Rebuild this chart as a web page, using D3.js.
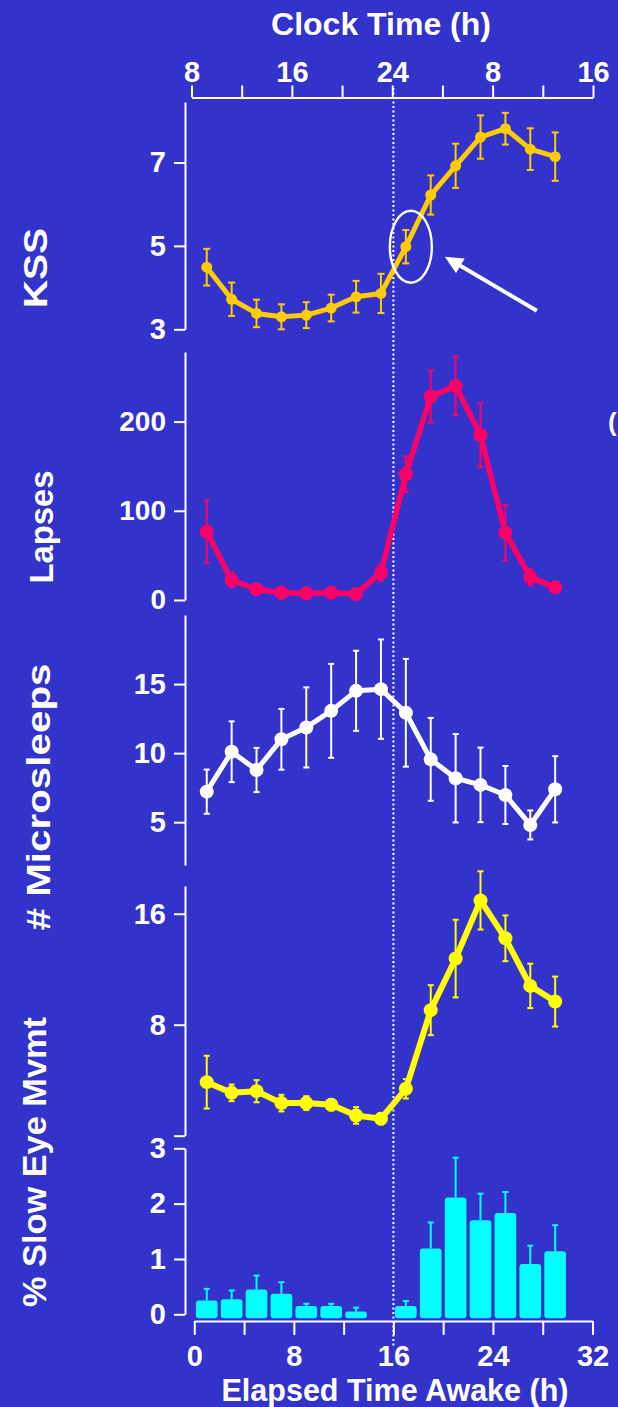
<!DOCTYPE html>
<html>
<head>
<meta charset="utf-8">
<style>
  body { margin: 0; background: #3333cc; }
  svg text { font-family: Arial, "Liberation Sans", sans-serif; font-weight: bold; fill: #fff; }
</style>
<script src="https://cdn.jsdelivr.net/npm/d3@7/dist/d3.min.js"></script>
</head>
<body>
<script>
const elapsed = [1, 3, 5, 7, 9, 11, 13, 15, 17, 19, 21, 23, 25, 27, 29];

const kss = [4.49, 3.72, 3.38, 3.30, 3.34, 3.51, 3.78, 3.86, 4.98, 6.22, 6.92, 7.61, 7.81, 7.32, 7.14];
const kssErr = [0.44, 0.40, 0.33, 0.30, 0.31, 0.32, 0.38, 0.47, 0.40, 0.47, 0.53, 0.52, 0.38, 0.50, 0.58];

const lapses = [76.6, 22.4, 12, 8.2, 7.5, 8.2, 6.7, 30.6, 141, 228, 240, 184.6, 75.5, 25.4, 14.2];
const lapsesErr = [35, 8, 2, 1.5, 1.5, 1.5, 1.5, 9, 20, 29, 33, 36, 31, 9, 2];

const counts = [7.21, 10.1, 8.78, 11.0, 11.86, 13.06, 14.51, 14.63, 12.92, 9.55, 8.18, 7.7, 6.97, 4.8, 7.38];
const countsErr = [1.6, 2.2, 1.6, 2.2, 2.9, 3.4, 2.9, 3.6, 3.9, 3.0, 3.2, 2.7, 2.1, 1.05, 2.4];

const slowEye = [3.86, 3.09, 3.21, 2.35, 2.35, 2.23, 1.46, 1.22, 3.38, 9.05, 12.77, 16.96, 14.23, 10.8, 9.67];
const slowEyeErr = [1.9, 0.6, 0.8, 0.6, 0.5, 0.4, 0.6, 0.4, 0.7, 1.8, 2.8, 2.1, 1.65, 1.6, 1.8];

const micro = [0.25, 0.27, 0.45, 0.37, 0.15, 0.15, 0.05, 0, 0.15, 1.19, 2.11, 1.70, 1.83, 0.91, 1.14];
const microErr = [0.21, 0.16, 0.25, 0.21, 0.04, 0.04, 0.07, 0, 0.09, 0.47, 0.72, 0.48, 0.38, 0.33, 0.47];

const clockTicks = [8, 12, 16, 20, 24, 28, 32, 36, 40];
const elapsedTicks = [0, 4, 8, 12, 16, 20, 24, 28, 32];

const W = 618, H = 1407;
const svg = d3.select("body").append("svg").attr("width", W).attr("height", H);

const x = d3.scaleLinear().domain([0, 32]).range([194.3, 592.5]);
const xClock = d3.scaleLinear().domain([8, 40]).range([191.5, 593]);
const axisX = 185;

function styleAxis(g, size) {
  g.select(".domain").attr("stroke", "#fff").attr("stroke-width", 2);
  g.selectAll(".tick line").attr("stroke", "#fff").attr("stroke-width", 2);
  g.selectAll(".tick text").attr("fill", "#fff").attr("font-size", size)
    .attr("font-family", "Arial, 'Liberation Sans', sans-serif").attr("font-weight", "bold");
}

// dotted line marking 24:00 / 16 h awake (drawn under the data)
svg.append("line")
  .attr("x1", x(16)).attr("x2", x(16)).attr("y1", 88).attr("y2", 1346)
  .attr("stroke", "#fff").attr("stroke-width", 2).attr("stroke-dasharray", "2,2.5");

// top clock-time axis
const topAxis = svg.append("g").attr("transform", "translate(0,97.5)")
  .call(d3.axisTop(xClock).tickValues(clockTicks).tickSize(12).tickSizeOuter(0).tickPadding(4)
    .tickFormat(d => d % 8 ? "" : (d > 24 ? d - 24 : d)));
styleAxis(topAxis, 29);
svg.append("text").attr("x", 381).attr("y", 35).attr("text-anchor", "middle")
  .attr("font-size", 32).text("Clock Time (h)");

// bottom elapsed-time axis
const bottomAxis = svg.append("g").attr("transform", "translate(0,1321)")
  .call(d3.axisBottom(x).tickValues(elapsedTicks).tickSize(14).tickSizeOuter(0).tickPadding(10)
    .tickFormat(d => d % 8 ? "" : d));
styleAxis(bottomAxis, 29);
svg.append("text").attr("x", 395).attr("y", 1401).attr("text-anchor", "middle")
  .attr("font-size", 30.5).text("Elapsed Time Awake (h)");

function linePanel(vals, errs, y, color, ticks, fmt, lw, r, cap, fontSize) {
  const g = svg.append("g");
  const ax = g.append("g").attr("transform", `translate(${axisX},0)`)
    .call(d3.axisLeft(y).tickValues(ticks).tickSize(11).tickSizeOuter(0).tickPadding(8)
      .tickFormat(fmt || d3.format("d")));
  styleAxis(ax, fontSize || 29);

  const pts = elapsed.map((e, i) => ({ e, v: vals[i], s: errs[i] }));
  const eb = g.append("g").attr("stroke", color).attr("stroke-width", 2);
  pts.forEach(p => {
    eb.append("line").attr("x1", x(p.e)).attr("x2", x(p.e))
      .attr("y1", y(p.v - p.s)).attr("y2", y(p.v + p.s));
    [p.v - p.s, p.v + p.s].forEach(v => eb.append("line")
      .attr("x1", x(p.e) - cap).attr("x2", x(p.e) + cap).attr("y1", y(v)).attr("y2", y(v)));
  });
  g.append("path").datum(pts)
    .attr("fill", "none").attr("stroke", color).attr("stroke-width", lw)
    .attr("stroke-linejoin", "round")
    .attr("d", d3.line().x(d => x(d.e)).y(d => y(d.v)));
  g.selectAll("circle").data(pts).join("circle")
    .attr("cx", d => x(d.e)).attr("cy", d => y(d.v)).attr("r", r).attr("fill", color);
  return g;
}

// panel 1
const y1 = d3.scaleLinear().domain([3, 8.45]).range([329.3, 102]);
const p1 = linePanel(kss, kssErr, y1, "#ffcc00", [3, 5, 7], null, 5, 5.5, 3.5, 29);

// circled point and arrow
const cx = x(17) + 5, cy = y1(kss[8]);
p1.append("ellipse").attr("cx", cx).attr("cy", cy).attr("rx", 21).attr("ry", 36)
  .attr("fill", "none").attr("stroke", "#fff").attr("stroke-width", 2.4);
const ax0 = cx + 126, ay0 = cy + 64, ax1 = cx + 34, ay1 = cy + 10;
const ang = Math.atan2(ay1 - ay0, ax1 - ax0);
const hl = 18, hw = 8.5;
const bx = ax1 - hl * Math.cos(ang), by = ay1 - hl * Math.sin(ang);
p1.append("line").attr("x1", ax0).attr("y1", ay0).attr("x2", bx).attr("y2", by)
  .attr("stroke", "#fff").attr("stroke-width", 4);
p1.append("polygon").attr("fill", "#fff").attr("points", [
  [ax1, ay1],
  [bx + hw * Math.sin(ang), by - hw * Math.cos(ang)],
  [bx - hw * Math.sin(ang), by + hw * Math.cos(ang)]
].map(p => p.join(",")).join(" "));

// panel 2
const y2 = d3.scaleLinear().domain([0, 278]).range([600, 352]);
linePanel(lapses, lapsesErr, y2, "#ff0066", [0, 100, 200], null, 5.5, 7, 3, 28);

// panel 3
const y3 = d3.scaleLinear().domain([1.9, 20]).range([865, 615]);
linePanel(counts, countsErr, y3, "#ffffff", [5, 10, 15], null, 5, 7, 3, 29);

// panel 4
const y4 = d3.scaleLinear().domain([0, 18]).range([1135.7, 886]);
linePanel(slowEye, slowEyeErr, y4, "#ffff00", [0, 8, 16], d => d === 0 ? "" : d, 6, 7, 3, 29);

// panel 5 (bars)
const y5 = d3.scaleLinear().domain([0, 3]).range([1314.3, 1148.3]);
const ax5 = svg.append("g").attr("transform", `translate(${axisX},0)`)
  .call(d3.axisLeft(y5).tickValues([0, 1, 2, 3]).tickSize(11).tickSizeOuter(0).tickPadding(8)
    .tickFormat(d3.format("d")));
styleAxis(ax5, 29);
const bars = elapsed.map((e, i) => ({ e, v: micro[i], s: microErr[i] })).filter(d => d.v > 0);
const bw = x(1.74) - x(0);
const g5 = svg.append("g");
g5.append("g").attr("stroke", "#00ffff").attr("stroke-width", 2).selectAll("g").data(bars).join("g")
  .each(function(d) {
    const s = d3.select(this);
    s.append("line").attr("x1", x(d.e)).attr("x2", x(d.e)).attr("y1", y5(d.v)).attr("y2", y5(d.v + d.s));
    s.append("line").attr("x1", x(d.e) - 3).attr("x2", x(d.e) + 3).attr("y1", y5(d.v + d.s)).attr("y2", y5(d.v + d.s));
  });
g5.selectAll("rect").data(bars).join("rect")
  .attr("x", d => x(d.e) - bw / 2).attr("width", bw)
  .attr("y", d => y5(d.v)).attr("height", d => y5(0) + 4 - y5(d.v))
  .attr("rx", 3).attr("fill", "#00ffff");

// y-axis titles (rotated)
const titles = [
  { t: "KSS", cx: 35, cy: 268, len: 80 },
  { t: "Lapses", cx: 41, cy: 527, len: 113 },
  { t: "# Microsleeps", cx: 38, cy: 797, len: 267 },
  { t: "% Slow Eye Mvmt", cx: 34, cy: 1162, len: 290 }
];
svg.selectAll("text.ytitle").data(titles).join("text").attr("class", "ytitle")
  .attr("transform", d => `translate(${d.cx + 12},${d.cy}) rotate(-90)`)
  .attr("text-anchor", "middle").attr("font-size", 34)
  .attr("textLength", d => d.len).attr("lengthAdjust", "spacingAndGlyphs")
  .text(d => d.t);

// cut-off glyph at the right edge
svg.append("text").attr("x", 608).attr("y", 431).attr("font-size", 26).attr("font-weight", "normal").text("(");
</script>
</body>
</html>
